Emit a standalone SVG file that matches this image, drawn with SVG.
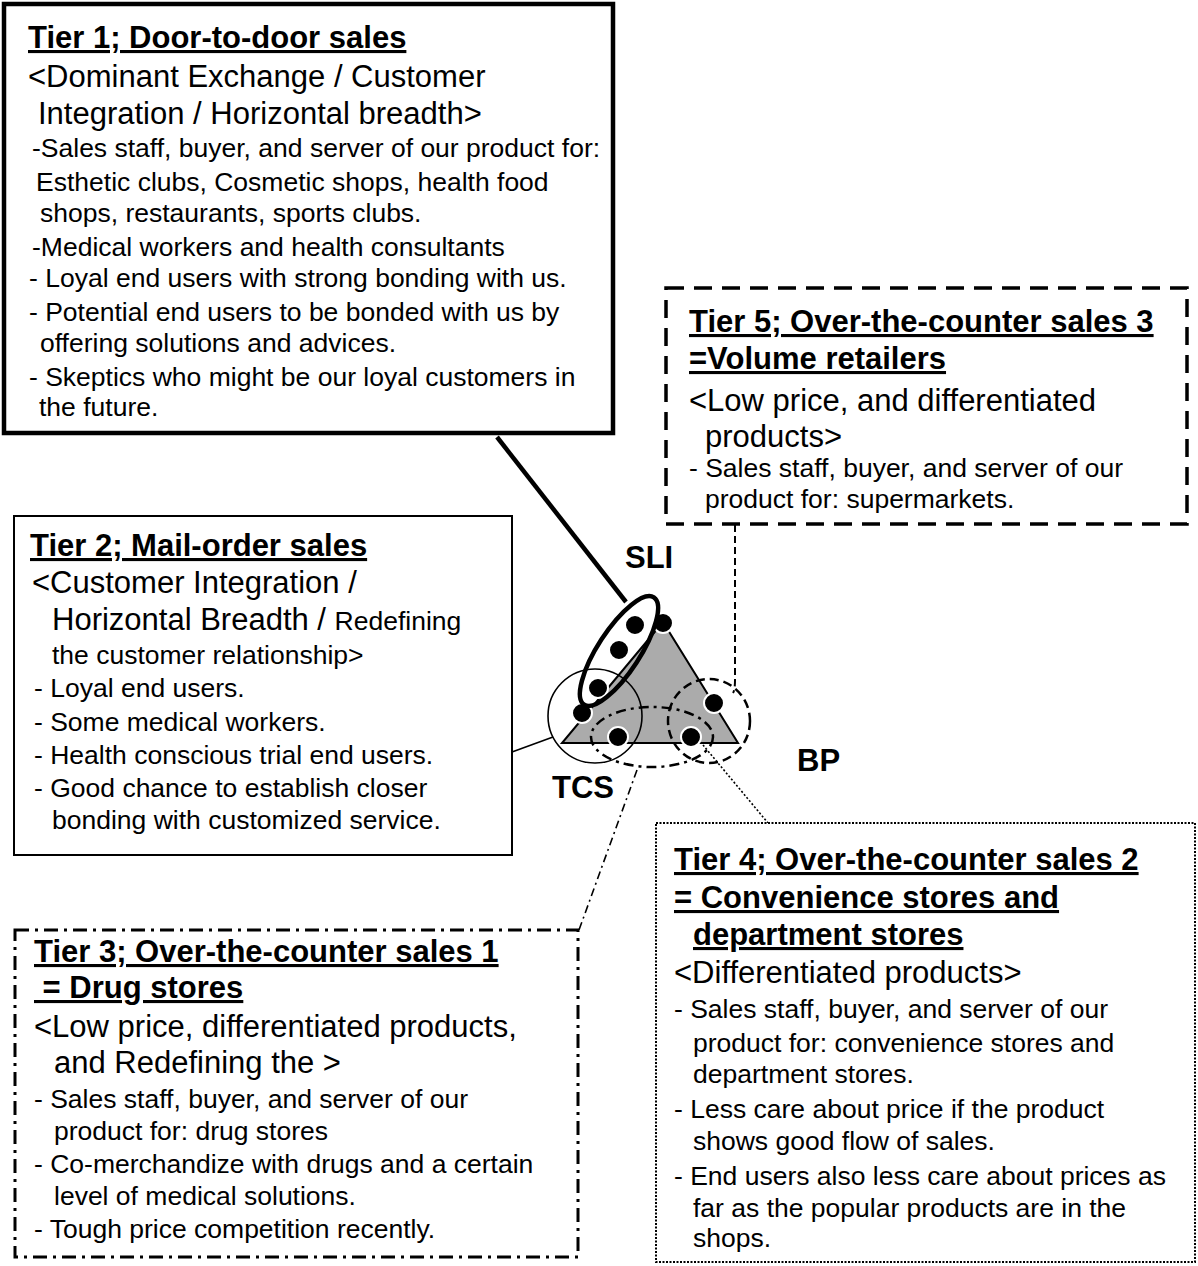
<svg xmlns="http://www.w3.org/2000/svg" width="1198" height="1266" viewBox="0 0 1198 1266">
<style>
text{font-family:"Liberation Sans",Arial,sans-serif;fill:#000}
.t{font-size:31px;font-weight:bold;text-decoration:underline}
.s{font-size:31px}
.b{font-size:26.5px}
.lbl{font-size:31px;font-weight:bold}
.box{fill:#fff;stroke:#000}
.con{fill:none;stroke:#000}
.dot{fill:#000;stroke:#fff;stroke-width:2}
</style>
<rect width="1198" height="1266" fill="#fff"/>

<g id="core">
<polygon points="663,622 562,743 738,743" fill="#ababab" stroke="#000" stroke-width="2"/>
<ellipse cx="652" cy="737" rx="61" ry="30" fill="none" stroke="#000" stroke-width="2.5" stroke-dasharray="10 5 3 5"/>
<circle cx="595" cy="716" r="47" fill="none" stroke="#000" stroke-width="1.6"/>
<ellipse cx="709" cy="721" rx="41" ry="42" fill="none" stroke="#000" stroke-width="2.5" stroke-dasharray="9 5"/>
<circle class="dot" cx="635" cy="625" r="10"/>
<circle class="dot" cx="619" cy="650" r="10"/>
<circle class="dot" cx="598" cy="688" r="10"/>
<circle class="dot" cx="582" cy="713" r="10"/>
<circle class="dot" cx="618" cy="737" r="10"/>
<circle class="dot" cx="663" cy="623" r="10"/>
<circle class="dot" cx="714" cy="703" r="10"/>
<circle class="dot" cx="691" cy="737" r="10"/>
<ellipse cx="619" cy="651" rx="64" ry="21" transform="rotate(-57 619 651)" fill="none" stroke="#000" stroke-width="4.5"/>
</g>

<g id="labels">
<text class="lbl" x="625" y="568">SLI</text>
<text class="lbl" x="552" y="798">TCS</text>
<text class="lbl" x="797" y="771">BP</text>
</g>

<g id="connectors">
<line class="con" x1="497" y1="437" x2="626" y2="602" stroke-width="4.5"/>
<line class="con" x1="512" y1="752" x2="553" y2="737" stroke-width="1.6"/>
<path class="con" d="M735,525 L735,680 Q735,690 733,693" stroke-width="2" stroke-dasharray="7 4"/>
<line class="con" x1="637" y1="770" x2="579" y2="930" stroke-width="1.6" stroke-dasharray="8 4 2 4"/>
<line class="con" x1="703" y1="745" x2="768" y2="823" stroke-width="1.6" stroke-dasharray="2 2"/>
</g>

<g id="tier1">
<rect class="box" x="4" y="4" width="609" height="429" stroke-width="4.5"/>
<text class="t" x="28" y="48">Tier 1; Door-to-door sales</text>
<text class="s" x="28" y="87">&lt;Dominant Exchange / Customer</text>
<text class="s" x="38" y="124">Integration / Horizontal breadth&gt;</text>
<text class="b" x="32" y="157">-Sales staff, buyer, and server of our product for:</text>
<text class="b" x="36" y="191">Esthetic clubs, Cosmetic shops, health food</text>
<text class="b" x="40" y="222">shops, restaurants, sports clubs.</text>
<text class="b" x="32" y="256">-Medical workers and health consultants</text>
<text class="b" x="29" y="287">- Loyal end users with strong bonding with us.</text>
<text class="b" x="29" y="321">- Potential end users to be bonded with us by</text>
<text class="b" x="40" y="352">offering solutions and advices.</text>
<text class="b" x="29" y="386">- Skeptics who might be our loyal customers in</text>
<text class="b" x="39" y="416">the future.</text>
</g>

<g id="tier2">
<rect class="box" x="14" y="516" width="498" height="339" stroke-width="2"/>
<text class="t" x="30" y="556">Tier 2; Mail-order sales</text>
<text class="s" x="32" y="593">&lt;Customer Integration /</text>
<text class="s" x="52" y="630">Horizontal Breadth / <tspan class="b">Redefining</tspan></text>
<text class="b" x="52" y="664">the customer relationship&gt;</text>
<text class="b" x="34" y="697">- Loyal end users.</text>
<text class="b" x="34" y="731">- Some medical workers.</text>
<text class="b" x="34" y="764">- Health conscious trial end users.</text>
<text class="b" x="34" y="797">- Good chance to establish closer</text>
<text class="b" x="52" y="829">bonding with customized service.</text>
</g>

<g id="tier3">
<rect class="box" x="15" y="930" width="563" height="327" stroke-width="3" stroke-dasharray="14 6 3 6"/>
<text class="t" x="34" y="962">Tier 3; Over-the-counter sales 1</text>
<text class="t" x="34" y="998" xml:space="preserve"> = Drug stores</text>
<text class="s" x="34" y="1037">&lt;Low price, differentiated products,</text>
<text class="s" x="54" y="1073">and Redefining the &gt;</text>
<text class="b" x="34" y="1108">- Sales staff, buyer, and server of our</text>
<text class="b" x="54" y="1140">product for: drug stores</text>
<text class="b" x="34" y="1173">- Co-merchandize with drugs and a certain</text>
<text class="b" x="54" y="1205">level of medical solutions.</text>
<text class="b" x="34" y="1238">- Tough price competition recently.</text>
</g>

<g id="tier4">
<rect class="box" x="656" y="823" width="539" height="439" stroke-width="2" stroke-dasharray="2 1.5"/>
<text class="t" x="674" y="870">Tier 4; Over-the-counter sales 2</text>
<text class="t" x="674" y="908">= Convenience stores and</text>
<text class="t" x="693" y="945">department stores</text>
<text class="s" x="674" y="983">&lt;Differentiated products&gt;</text>
<text class="b" x="674" y="1018">- Sales staff, buyer, and server of our</text>
<text class="b" x="693" y="1052">product for: convenience stores and</text>
<text class="b" x="693" y="1083">department stores.</text>
<text class="b" x="674" y="1118">- Less care about price if the product</text>
<text class="b" x="693" y="1150">shows good flow of sales.</text>
<text class="b" x="674" y="1185">- End users also less care about prices as</text>
<text class="b" x="693" y="1217">far as the popular products are in the</text>
<text class="b" x="693" y="1247">shops.</text>
</g>

<g id="tier5">
<rect class="box" x="666" y="288" width="521" height="236" stroke-width="3.5" stroke-dasharray="18 10"/>
<text class="t" x="689" y="332">Tier 5; Over-the-counter sales 3</text>
<text class="t" x="689" y="369">=Volume retailers</text>
<text class="s" x="689" y="411">&lt;Low price, and differentiated</text>
<text class="s" x="705" y="447">products&gt;</text>
<text class="b" x="689" y="477">- Sales staff, buyer, and server of our</text>
<text class="b" x="705" y="508">product for: supermarkets.</text>
</g>
</svg>
